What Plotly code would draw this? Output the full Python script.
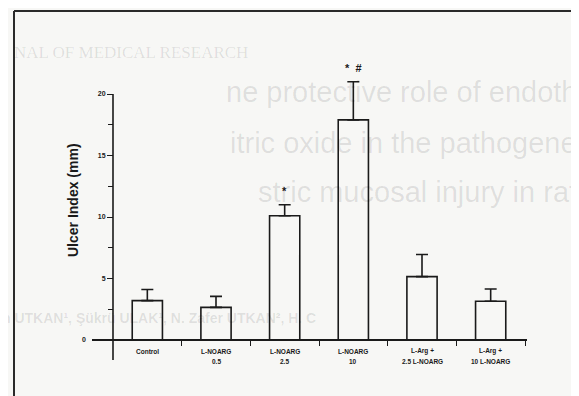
import plotly.graph_objects as go

# the page body has the browser's default 8px margin; size the figure to fit the window
OFF = 8
W, H = 579 - OFF, 396 - OFF

categories = ["Control", "L-NOARG 0.5", "L-NOARG 2.5", "L-NOARG 10", "L-Arg + 2.5 L-NOARG", "L-Arg + 10 L-NOARG"]
label_line1 = ["Control", "L-NOARG", "L-NOARG", "L-NOARG", "L-Arg +", "L-Arg +"]
label_line2 = ["", "0.5", "2.5", "10", "2.5 L-NOARG", "10 L-NOARG"]
ulcer_index = [3.2, 2.65, 10.1, 17.9, 5.15, 3.15]
sem = [0.9, 0.9, 0.9, 3.1, 1.8, 1.0]
significance = ["", "", "*", "*  #", "", ""]
y_major_ticks = [5, 10, 15, 20]
y_minor_ticks = [2.5, 7.5, 12.5, 17.5]
y_axis_top = 20

def px(x):
    return (x - OFF) / W

def py(y):
    return 1 - (y - OFF) / H

bg = "#f7f7f5"
ink = "#1a1a1a"
xpos = [i + 0.5 for i in range(len(categories))]

fig = go.Figure()
fig.add_trace(go.Bar(
    x=xpos, y=ulcer_index, width=0.44,
    marker=dict(color="rgba(0,0,0,0)", line=dict(color=ink, width=1.6)),
    error_y=dict(type="data", array=sem, arrayminus=[0] * len(sem), symmetric=False,
                 color=ink, thickness=1.6, width=6),
    cliponaxis=False, hoverinfo="skip",
))

x0_px, x6_px = 113, 525
unit = (x6_px - x0_px) / 6
xl, xr = 92, 527
xrange_ = [(xl - x0_px) / unit, 6 + (xr - x6_px) / unit]
y0_px, y20_px, ybot = 340, 94, 360
yunit = (y0_px - y20_px) / 20
ytop_val = 24
yrange_ = [-(ybot - y0_px) / yunit, ytop_val]
ytop_px = y0_px - ytop_val * yunit

annotations = []
# faint show-through text from the reverse page
ghost = "rgba(0,0,0,0.10)"
annotations += [
    dict(text="NAL OF MEDICAL RESEARCH", x=px(12), y=py(52), xref="paper", yref="paper",
         xanchor="left", yanchor="middle", showarrow=False,
         font=dict(family="Liberation Serif", size=17, color=ghost)),
    dict(text="ne protective role of endoth", x=px(224), y=py(92), xref="paper", yref="paper",
         xanchor="left", yanchor="middle", showarrow=False,
         font=dict(family="Liberation Sans", size=29, color=ghost)),
    dict(text="itric oxide in the pathogene", x=px(228), y=py(143), xref="paper", yref="paper",
         xanchor="left", yanchor="middle", showarrow=False,
         font=dict(family="Liberation Sans", size=29, color=ghost)),
    dict(text="stric mucosal injury in rats", x=px(256), y=py(192), xref="paper", yref="paper",
         xanchor="left", yanchor="middle", showarrow=False,
         font=dict(family="Liberation Sans", size=29, color=ghost)),
    dict(text="n UTKAN¹, Şükrü ULAK¹, N. Zafer UTKAN², H. C", x=px(0), y=py(318), xref="paper", yref="paper",
         xanchor="left", yanchor="middle", showarrow=False,
         font=dict(family="Liberation Sans", size=14, color=ghost, weight="bold")),
]

for i, x in enumerate(xpos):
    annotations.append(dict(text=label_line1[i], x=x, y=py(351), xref="x", yref="paper",
                            xanchor="center", yanchor="middle", showarrow=False,
                            font=dict(family="Liberation Sans", size=6.5, color=ink, weight="bold")))
    if label_line2[i]:
        annotations.append(dict(text=label_line2[i], x=x, y=py(361), xref="x", yref="paper",
                                xanchor="center", yanchor="middle", showarrow=False,
                                font=dict(family="Liberation Sans", size=6.5, color=ink, weight="bold")))
    if significance[i]:
        annotations.append(dict(text=significance[i], x=x, y=ulcer_index[i] + sem[i], xref="x", yref="y",
                                xanchor="center", yanchor="bottom", yshift=6, showarrow=False,
                                font=dict(family="Liberation Sans", size=11, color=ink, weight="bold")))

annotations.append(dict(text="0", x=px(84), y=0, xref="paper", yref="y", xanchor="center",
                        yanchor="middle", showarrow=False,
                        font=dict(family="Liberation Sans", size=7, color=ink, weight="bold")))
annotations.append(dict(text="Ulcer Index (mm)", x=px(73), y=py(200), xref="paper", yref="paper",
                        xanchor="center", yanchor="middle", textangle=-90, showarrow=False,
                        font=dict(family="Liberation Sans", size=14, color=ink, weight="bold")))

shapes = [
    dict(type="line", xref="paper", yref="paper", x0=px(14), x1=px(14), y0=0, y1=py(11),
         line=dict(color="#2a2a2a", width=2)),
    dict(type="line", xref="paper", yref="paper", x0=px(14), x1=1, y0=py(11), y1=py(11),
         line=dict(color="#2a2a2a", width=2)),
    # y-axis spine, running from the bottom of the axis range up to 20
    dict(type="line", xref="x", yref="y", x0=0, x1=0, y0=yrange_[0], y1=y_axis_top,
         line=dict(color=ink, width=1.6)),
]

fig.update_layout(
    width=W, height=H, autosize=False,
    margin=dict(l=0, r=0, t=0, b=0),
    paper_bgcolor=bg, plot_bgcolor="rgba(0,0,0,0)",
    showlegend=False,
    xaxis=dict(domain=[px(xl), px(xr)], range=xrange_, anchor="free", position=py(y0_px),
               showline=True, linecolor=ink, linewidth=1.6, showgrid=False, zeroline=False,
               tickvals=[1, 2, 3, 4, 5, 6], ticktext=[""] * 6, ticks="outside", ticklen=5,
               tickwidth=1.4, tickcolor=ink),
    yaxis=dict(domain=[py(ybot), py(ytop_px)], range=yrange_, anchor="free", position=px(x0_px),
               showline=False, showgrid=False, zeroline=False,
               tickvals=y_major_ticks, ticks="outside", ticklen=6, tickwidth=1.4, tickcolor=ink,
               tickfont=dict(family="Liberation Sans", size=7, color=ink, weight="bold"),
               minor=dict(tickvals=y_minor_ticks, ticks="outside", ticklen=5, tickwidth=1.4, tickcolor=ink)),
    annotations=annotations,
    shapes=shapes,
)

fig.write_html("out.html")
